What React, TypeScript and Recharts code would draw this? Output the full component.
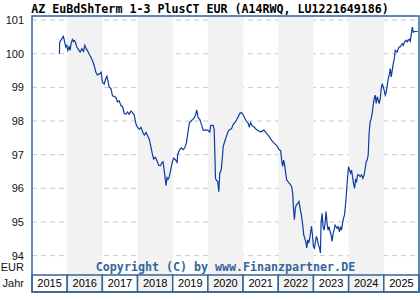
import React from 'react';
import { LineChart, Line, XAxis, YAxis, CartesianGrid, ReferenceArea, ReferenceLine } from 'recharts';

const title = 'AZ EuBdShTerm 1-3 PlusCT EUR (A14RWQ, LU1221649186)';
const copyright = 'Copyright (C) by www.Finanzpartner.DE';
const unitLabel = 'EUR';
const yearLabel = 'Jahr';

const years = [2015, 2016, 2017, 2018, 2019, 2020, 2021, 2022, 2023, 2024, 2025];
const shadedYears = [2016, 2018, 2020, 2022, 2024];
const yTicks = [94, 95, 96, 97, 98, 99, 100, 101];

// time as decimal years since 2015
const dates = [
  0.778, 0.789, 0.846, 0.892, 0.920, 0.960, 0.989, 1.017, 1.054, 1.083, 1.111, 1.148, 1.177, 1.205, 1.234, 1.274,
  1.319, 1.368, 1.416, 1.462, 1.502, 1.539, 1.587, 1.633, 1.673, 1.718, 1.767, 1.815, 1.861, 1.918, 1.966, 2.003,
  2.052, 2.089, 2.129, 2.157, 2.194, 2.243, 2.288, 2.337, 2.385, 2.431, 2.479, 2.528, 2.573, 2.622, 2.670, 2.716,
  2.764, 2.813, 2.858, 2.907, 2.955, 3.001, 3.049, 3.098, 3.143, 3.192, 3.240, 3.286, 3.334, 3.383, 3.411, 3.457,
  3.505, 3.554, 3.599, 3.648, 3.696, 3.725, 3.753, 3.782, 3.810, 3.839, 3.867, 3.896, 3.933,
  3.981, 4.027, 4.075, 4.124, 4.141, 4.198, 4.246, 4.295, 4.340, 4.389, 4.437, 4.474, 4.523, 4.568, 4.617, 4.654,
  4.682, 4.722, 4.768, 4.816, 4.865, 4.930, 4.996, 5.053, 5.081, 5.150, 5.178, 5.195, 5.215, 5.244, 5.281, 5.309,
  5.338, 5.378, 5.406, 5.435, 5.480, 5.529, 5.577, 5.623, 5.671, 5.720, 5.765, 5.814, 5.862, 5.908, 5.948, 5.993,
  6.042, 6.090, 6.136, 6.176, 6.213, 6.261, 6.307, 6.355, 6.404, 6.449, 6.498, 6.546, 6.592, 6.640, 6.689, 6.734,
  6.783, 6.831, 6.877, 6.925, 6.974, 7.019, 7.068,
  7.096, 7.125, 7.153, 7.182, 7.210, 7.239, 7.276, 7.315, 7.353, 7.381, 7.410, 7.429, 7.458, 7.486, 7.515, 7.561,
  7.589, 7.618, 7.657, 7.695, 7.723, 7.752, 7.780, 7.809, 7.837, 7.866, 7.903, 7.943, 7.971, 8.000, 8.028, 8.057,
  8.085, 8.114, 8.142, 8.171, 8.199, 8.216, 8.245, 8.273, 8.302, 8.330, 8.359, 8.387, 8.416, 8.444, 8.473, 8.501,
  8.530, 8.558, 8.587, 8.615, 8.644, 8.672, 8.701, 8.740, 8.769, 8.797, 8.826, 8.854, 8.883, 8.911, 8.940, 8.968,
  8.997, 9.025, 9.054, 9.082, 9.111, 9.139, 9.168, 9.196, 9.225, 9.253, 9.290, 9.328, 9.367, 9.405, 9.442, 9.471,
  9.499, 9.527, 9.556, 9.584, 9.613, 9.641, 9.670, 9.698, 9.727, 9.755, 9.784, 9.812, 9.841, 9.869, 9.898, 9.926,
  9.955, 9.983, 10.012, 10.040, 10.069, 10.097, 10.126, 10.154, 10.183, 10.211, 10.240, 10.268, 10.297, 10.325,
  10.354, 10.382, 10.411, 10.439, 10.468, 10.496, 10.525, 10.553, 10.581, 10.610, 10.638, 10.667, 10.695, 10.724,
  10.752, 10.781, 10.809, 10.838, 10.866, 10.915, 10.963,
];

const prices = [
  100.00, 100.34, 100.44, 100.51, 100.39, 100.20, 100.25, 100.10, 100.20, 100.10, 100.30, 100.42, 100.36, 100.39, 100.34, 100.20,
  100.13, 100.05, 100.15, 100.07, 100.25, 100.15, 100.07, 99.97, 99.90, 99.80, 99.65, 99.45, 99.37, 99.40, 99.45, 99.15,
  99.10, 99.24, 99.33, 99.20, 99.00, 98.97, 98.75, 98.73, 98.70, 98.57, 98.60, 98.45, 98.43, 98.23, 98.20, 98.27,
  98.20, 98.30, 98.25, 98.17, 97.91, 97.81, 97.76, 97.81, 97.68, 97.58, 97.66, 97.56, 97.46, 97.22, 97.07, 96.87,
  96.92, 96.82, 96.69, 96.67, 96.77, 96.79, 96.57, 96.32, 96.08, 96.32, 96.27, 96.32, 96.50,
  96.75, 96.90, 96.85, 96.77, 97.00, 97.15, 97.20, 97.15, 97.20, 97.35, 97.70, 97.95, 98.00, 98.05, 98.10, 98.20,
  98.33, 98.10, 98.05, 97.90, 97.73, 97.73, 97.73, 97.67, 97.87, 97.87, 97.75, 97.15, 96.30, 96.23, 96.20, 95.90,
  96.45, 96.55, 96.85, 97.25, 97.40, 97.55, 97.70, 97.75, 97.77, 97.90, 97.95, 98.03, 98.13, 98.23, 98.25, 98.20,
  98.10, 98.00, 97.95, 97.83, 97.95, 97.85, 97.83, 97.77, 97.73, 97.70, 97.67, 97.70, 97.73, 97.67, 97.60, 97.55,
  97.47, 97.40, 97.35, 97.30, 97.25, 97.15, 97.12,
  96.84, 96.65, 96.84, 96.69, 96.45, 96.25, 96.20, 96.15, 96.10, 96.05, 95.85, 95.46, 95.07, 95.41, 95.51, 95.56,
  95.61, 95.41, 95.21, 94.91, 94.62, 94.52, 94.42, 94.23, 94.47, 94.37, 94.57, 94.87, 94.62, 94.27, 94.22, 94.42,
  94.57, 94.47, 94.32, 94.23, 94.08, 94.96, 95.26, 94.86, 94.76, 94.96, 95.31, 94.96, 94.76, 94.86, 94.71, 94.62,
  94.42, 94.67, 94.76, 94.91, 94.86, 94.81, 94.86, 94.71, 94.86, 94.76, 94.96, 95.11, 95.21, 95.51, 95.90, 96.30,
  96.64, 96.54, 96.45, 96.54, 96.35, 96.15, 96.00, 96.25, 96.20, 96.40, 96.40, 96.35, 96.40, 96.30, 96.40, 96.59,
  96.79, 96.84, 96.99, 97.68, 97.98, 98.07, 98.23, 98.47, 98.67, 98.77, 98.52, 98.72, 98.62, 98.52, 98.67, 98.96,
  99.11, 99.01, 98.91, 98.77, 98.86, 99.06, 99.26, 99.36, 99.56, 99.31, 99.51, 99.70, 99.85, 100.10,
  100.07, 100.05, 100.15, 100.20, 100.20, 100.25, 100.30, 100.25, 100.33, 100.37, 100.40, 100.35, 100.40, 100.43,
  100.37, 100.59, 100.79, 100.64, 100.66, 100.66, 100.66,
];

const data = dates.map((d, i) => ({ t: 2015 + d, v: prices[i] }));

// value range of the drawing area (top of frame down to the bottom of the year row)
const Y_TOP = 101.12;
const Y_FRAME = 93.427;
const Y_BOTTOM = 92.92;
const Y_TEXT = 93.65;
const X_START = 2015;
const X_END = 2026;

const FRAME = '#336699';
const SANS = "'Liberation Sans', Arial, sans-serif";
const MONO = "'DejaVu Sans Mono', monospace";

const EurLabel = (props: any) => {
  const vb = props.viewBox || {};
  return (
    <text x={vb.x - 8} y={vb.y} textAnchor="end" dominantBaseline="central" fontFamily={SANS} fontSize={11} fill="#111">
      {unitLabel}
    </text>
  );
};

const CopyLabel = (props: any) => {
  const vb = props.viewBox || {};
  return (
    <text x={vb.x + (vb.width || 0) / 2} y={vb.y} textAnchor="middle" dominantBaseline="central" fontFamily={MONO} fontWeight="bold" fontSize={11.65} fill={FRAME}>
      {copyright}
    </text>
  );
};

const makeYearLabel = (yr: number, idx: number) => (props: any) => {
  const vb = props.viewBox || {};
  const cy = vb.y + vb.height / 2;
  return (
    <g>
      <text x={vb.x + vb.width / 2} y={cy} textAnchor="middle" dominantBaseline="central" fontFamily={SANS} fontSize={11} fill="#000">
        {String(yr)}
      </text>
      {idx === 0 ? (
        <text x={vb.x - 8} y={cy} textAnchor="end" dominantBaseline="central" fontFamily={SANS} fontSize={11} fill="#111">
          {yearLabel}
        </text>
      ) : null}
    </g>
  );
};

export default function App() {
  return (
    <div style={{ position: 'absolute', left: 0, top: 0, width: 420, height: 300, background: '#fff' }}>
      <div
        style={{
          position: 'absolute',
          left: 0,
          top: 1,
          width: 420,
          textAlign: 'center',
          fontFamily: MONO,
          fontWeight: 'bold',
          fontSize: 11.65,
          lineHeight: '16px',
          color: '#000',
          whiteSpace: 'nowrap',
        }}
      >
        {title}
      </div>
      <LineChart width={420} height={300} data={data} margin={{ top: 16, right: 1, bottom: 8, left: 0 }}>
        {shadedYears.map((y) => (
          <ReferenceArea
            key={'s' + y}
            x1={y}
            x2={y + 1}
            y1={Y_FRAME}
            y2={Y_TOP}
            fill="#f2f2f2"
            fillOpacity={1}
            stroke="none"
            ifOverflow="visible"
          />
        ))}
        <CartesianGrid horizontal vertical={false} stroke="#c8c8c8" strokeDasharray="5 4" />
        <XAxis type="number" dataKey="t" domain={[X_START, X_END]} hide allowDataOverflow />
        <YAxis
          type="number"
          domain={[Y_BOTTOM, Y_TOP]}
          ticks={yTicks}
          width={32}
          axisLine={false}
          tickLine={false}
          tickSize={0}
          tickMargin={8}
          allowDataOverflow
          tick={{ fill: '#111', fontSize: 11, fontFamily: SANS }}
        />
        <ReferenceLine y={Y_TEXT} stroke="none" ifOverflow="visible" label={(p: any) => <EurLabel {...p} />} />
        <ReferenceLine y={Y_TEXT} stroke="none" ifOverflow="visible" label={(p: any) => <CopyLabel {...p} />} />
        <Line type="linear" dataKey="v" stroke="#0b3d9e" strokeWidth={1.2} dot={false} isAnimationActive={false} />
        {years.map((y, i) => (
          <ReferenceArea
            key={'y' + y}
            x1={y}
            x2={y + 1}
            y1={Y_BOTTOM}
            y2={Y_FRAME}
            fill={shadedYears.includes(y) ? '#f2f2f2' : '#ffffff'}
            fillOpacity={1}
            stroke={FRAME}
            strokeWidth={1.5}
            ifOverflow="visible"
            label={makeYearLabel(y, i)}
          />
        ))}
        <ReferenceArea
          x1={X_START}
          x2={X_END}
          y1={Y_BOTTOM}
          y2={Y_TOP}
          fill="none"
          stroke={FRAME}
          strokeWidth={1.5}
          ifOverflow="visible"
        />
      </LineChart>
    </div>
  );
}
